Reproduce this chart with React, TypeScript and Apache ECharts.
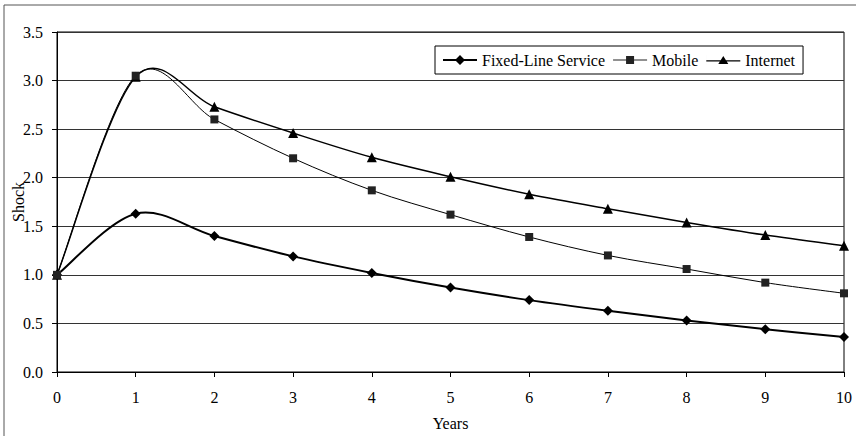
import React, { useEffect, useRef } from "react";
import * as echarts from "echarts";

// Years after the shock
const years = [0, 1, 2, 3, 4, 5, 6, 7, 8, 9, 10];
// Impulse responses by service
const fixedLine = [1.0, 1.63, 1.4, 1.19, 1.02, 0.87, 0.74, 0.63, 0.53, 0.44, 0.36];
const mobile = [1.0, 3.05, 2.6, 2.2, 1.87, 1.62, 1.39, 1.2, 1.06, 0.92, 0.81];
const internet = [1.0, 3.04, 2.73, 2.46, 2.21, 2.01, 1.83, 1.68, 1.54, 1.41, 1.3];

const seriesNames = ["Fixed-Line Service", "Mobile", "Internet"];

const FONT = "'Liberation Serif', 'Times New Roman', serif";

const pairs = (ys: number[]) => years.map((x, i) => [x, ys[i]]);

// Catmull-Rom style smoothed curve, one bezier segment per data point
function smoothCurve(values: number[], width: number, z: number) {
  const n = values.length;
  return {
    type: "custom",
    name: "",
    data: pairs(values),
    silent: true,
    z,
    renderItem: (params: any, api: any) => {
      const i = params.dataIndex;
      if (i >= n - 1) return null;
      const P = (j: number) => {
        const k = Math.max(0, Math.min(n - 1, j));
        return api.coord([years[k], values[k]]);
      };
      const p0 = P(i - 1);
      const p1 = P(i);
      const p2 = P(i + 1);
      const p3 = P(i + 2);
      return {
        type: "bezierCurve",
        shape: {
          x1: p1[0],
          y1: p1[1],
          x2: p2[0],
          y2: p2[1],
          cpx1: p1[0] + (p2[0] - p0[0]) / 6,
          cpy1: p1[1] + (p2[1] - p0[1]) / 6,
          cpx2: p2[0] - (p3[0] - p1[0]) / 6,
          cpy2: p2[1] - (p3[1] - p1[1]) / 6,
        },
        style: { stroke: "#000", lineWidth: width, fill: null },
      };
    },
  };
}

function markers(name: string, values: number[], symbol: string, size: number, color: string, z: number) {
  return {
    name,
    type: "line",
    data: pairs(values),
    symbol,
    symbolSize: size,
    z,
    lineStyle: { opacity: 0 },
    itemStyle: { color },
  };
}

export default function App() {
  const ref = useRef<HTMLDivElement>(null);

  useEffect(() => {
    document.body.style.margin = "0";
    if (!ref.current) return;
    const chart = echarts.init(ref.current, undefined, { renderer: "svg" });
    chart.setOption({
      animation: false,
      backgroundColor: "#fff",
      textStyle: { fontFamily: FONT, color: "#000" },
      grid: {
        left: 57,
        right: 17,
        top: 32,
        bottom: 64,
        containLabel: false,
        outerBoundsMode: "none",
        show: true,
        borderColor: "#000",
        borderWidth: 1,
      },
      legend: {
        data: [
          { name: seriesNames[0], icon: "path://M0,4 H34 V6 H0 Z M17,0 L22,5 L17,10 L12,5 Z" },
          { name: seriesNames[1], icon: "path://M0,4.5 H34 V5.5 H0 Z M13,1 H21 V9 H13 Z M0,0 H0.01 V10 H0 Z" },
          { name: seriesNames[2], icon: "path://M0,5.2 H34 V6.6 H0 Z M17,1 L22,9 L12,9 Z M0,0 H0.01 V10 H0 Z" },
        ],
        left: 435,
        top: 46,
        orient: "horizontal",
        backgroundColor: "#fff",
        borderColor: "#000",
        borderWidth: 1,
        borderRadius: 0,
        padding: [6, 8, 6, 8],
        itemGap: 8,
        itemWidth: 34,
        itemHeight: 10,
        textStyle: { fontFamily: FONT, fontSize: 16, color: "#000" },
      },
      xAxis: {
        type: "value",
        min: 0,
        max: 10,
        interval: 1,
        name: "Years",
        nameLocation: "middle",
        nameGap: 43,
        nameMoveOverlap: false,
        nameTextStyle: { fontFamily: FONT, fontSize: 16, color: "#000" },
        axisLine: { show: true, lineStyle: { color: "#000", width: 1 } },
        axisTick: { show: true, inside: false, length: 5, lineStyle: { color: "#000" } },
        axisLabel: { fontFamily: FONT, fontSize: 16, color: "#000", margin: 17 },
        splitLine: { show: false },
      },
      yAxis: {
        type: "value",
        min: 0,
        max: 3.5,
        interval: 0.5,
        name: "Shock",
        nameLocation: "middle",
        nameRotate: 90,
        nameGap: 31,
        nameMoveOverlap: false,
        nameTextStyle: { fontFamily: FONT, fontSize: 16, color: "#000" },
        axisLine: { show: true, lineStyle: { color: "#000", width: 1 } },
        axisTick: { show: true, inside: false, length: 5, lineStyle: { color: "#000" } },
        axisLabel: {
          fontFamily: FONT,
          fontSize: 16,
          color: "#000",
          margin: 14,
          formatter: (v: number) => v.toFixed(1),
        },
        splitLine: { show: true, lineStyle: { color: "#333", width: 1 } },
      },
      graphic: [
        { type: "line", shape: { x1: 4, y1: 5, x2: 4, y2: 436 }, style: { stroke: "#555", lineWidth: 1 } },
        { type: "line", shape: { x1: 4, y1: 5, x2: 856, y2: 5 }, style: { stroke: "#555", lineWidth: 1 } },
      ],
      series: [
        smoothCurve(fixedLine, 2, 2),
        smoothCurve(mobile, 1, 2),
        smoothCurve(internet, 1.5, 2),
        markers(seriesNames[0], fixedLine, "diamond", 10, "#000", 4),
        markers(seriesNames[2], internet, "triangle", 10, "#000", 4),
        markers(seriesNames[1], mobile, "rect", 8, "#222", 5),
      ],
    });
    return () => chart.dispose();
  }, []);

  return <div ref={ref} style={{ width: 861, height: 436 }} />;
}
